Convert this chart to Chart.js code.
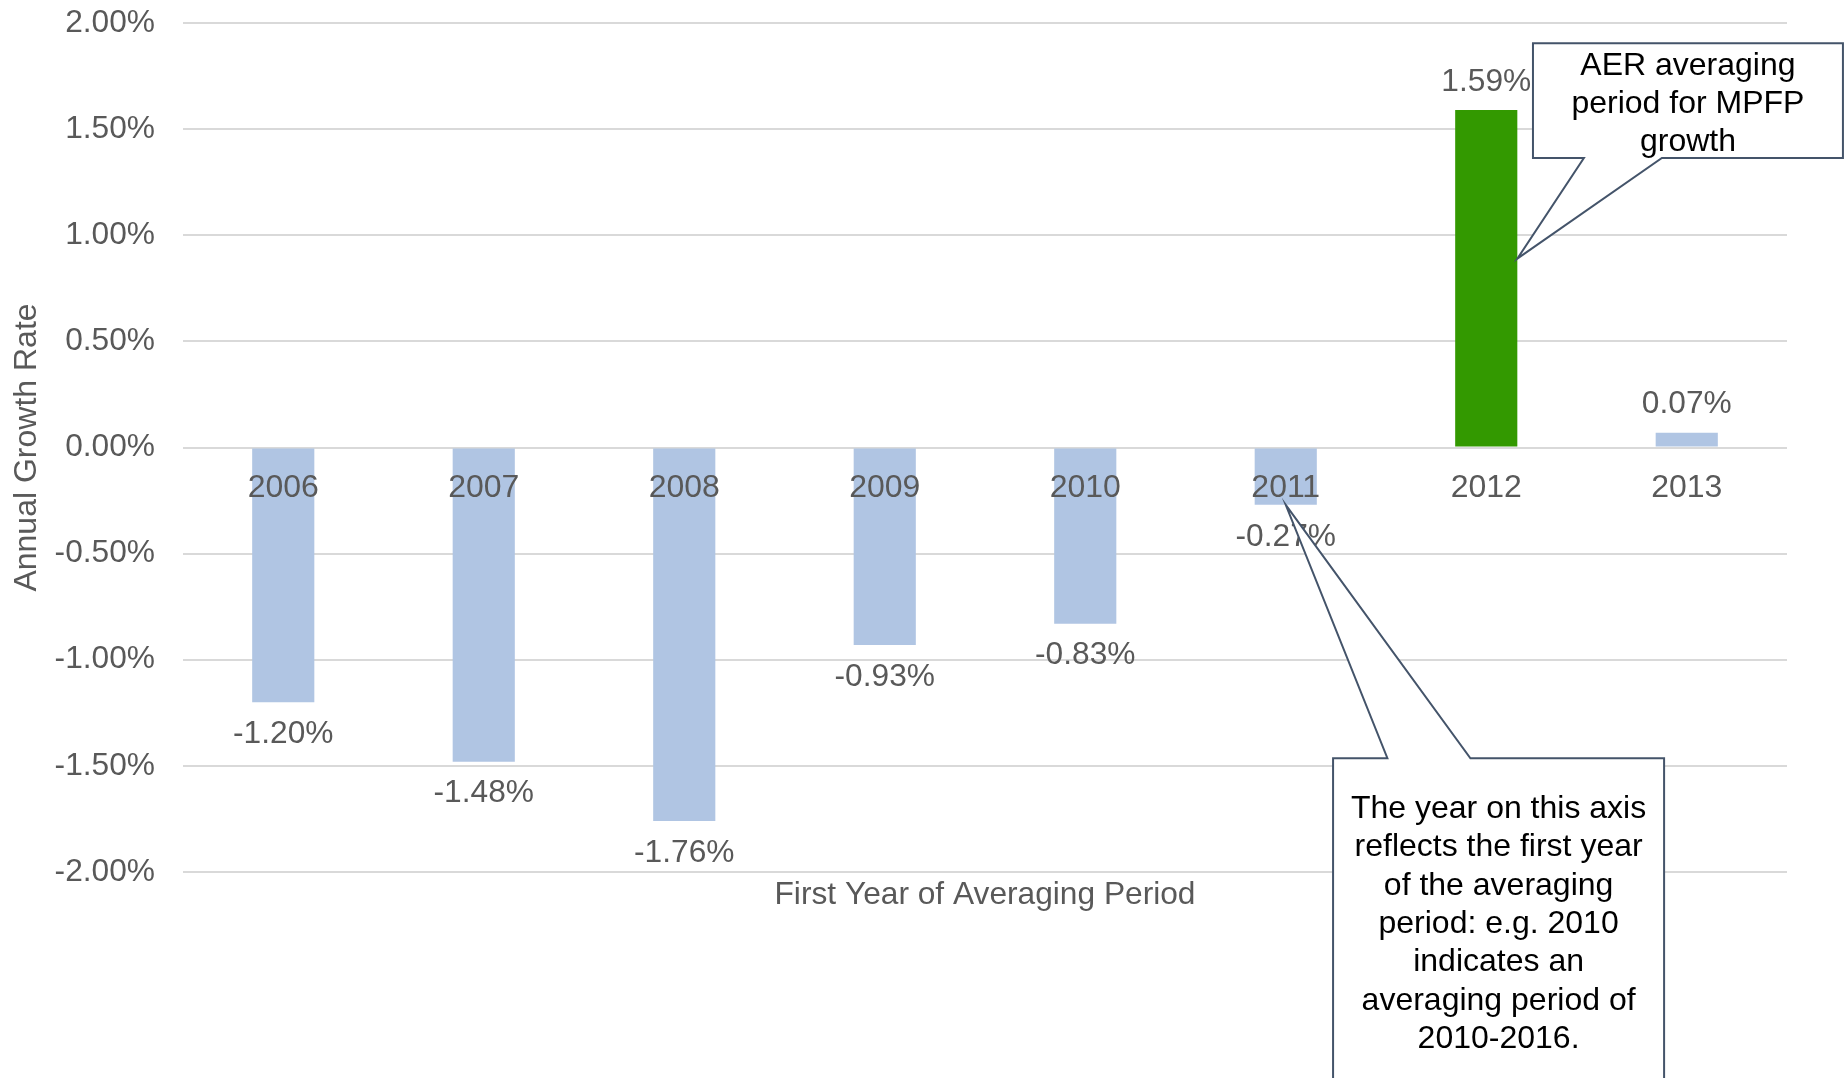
<!DOCTYPE html>
<html>
<head>
<meta charset="utf-8">
<title>Annual Growth Rate by First Year of Averaging Period</title>
<script src="https://cdn.jsdelivr.net/npm/chart.js@4.4.1/dist/chart.umd.min.js"></script>
<style>
    html, body { margin: 0; padding: 0; background: #fff; }
    #wrap { width: 1845px; height: 1078px; position: relative; }
</style>
</head>
<body>
<div id="wrap"><canvas id="growthChart"></canvas></div>
<script>
// Data
const years = ['2006', '2007', '2008', '2009', '2010', '2011', '2012', '2013'];
const growthRates = [-1.20, -1.48, -1.76, -0.93, -0.83, -0.27, 1.59, 0.07];
const highlightYear = '2012';
const yTickValues = [-2, -1.5, -1, -0.5, 0, 0.5, 1, 1.5, 2];

// Callout text
const aerNoteLines = ['AER averaging', 'period for MPFP', 'growth'];
const axisNoteLines = [
    'The year on this axis',
    'reflects the first year',
    'of the averaging',
    'period: e.g. 2010',
    'indicates an',
    'averaging period of',
    '2010-2016.'
];

const FONT = '"Liberation Sans", Arial, sans-serif';
const GREY = '#595959';

Chart.defaults.font.family = FONT;
Chart.defaults.color = GREY;

// percentage labels above / below each bar
const valueLabels = {
    id: 'valueLabels',
    afterDatasetsDraw(chart) {
        const ctx = chart.ctx;
        const bars = chart.getDatasetMeta(0).data;
        ctx.save();
        ctx.font = '31.7px ' + FONT;
        ctx.fillStyle = GREY;
        ctx.textAlign = 'center';
        ctx.textBaseline = 'middle';
        bars.forEach((bar, i) => {
            const v = growthRates[i];
            const y = v >= 0 ? bar.y - 28 : bar.y + 32;
            ctx.fillText(v.toFixed(2) + '%', bar.x, y);
        });
        ctx.restore();
    }
};

// callout boxes, placed in axis units (category index / percent)
const callouts = [
    {
        lines: aerNoteLines, side: 'bottom',
        left: 6.233, right: 7.779, top: 1.905, bottom: 1.364,
        base: [6.487, 6.876],
        bar: 6, tipEdge: 'right', tipValue: 0.89,
        firstBaseline: 32, lineGap: 37.8
    },
    {
        lines: axisNoteLines, side: 'top',
        left: 5.236, right: 6.887, top: -1.464, bottom: -3.1,
        base: [5.507, 5.921],
        bar: 5, tipEdge: 'center', tipValue: null,
        firstBaseline: 59.5, lineGap: 38.4
    }
];

const calloutPlugin = {
    id: 'callouts',
    afterDraw(chart) {
        const ctx = chart.ctx;
        const xs = chart.scales.x, ys = chart.scales.y;
        const bars = chart.getDatasetMeta(0).data;
        callouts.forEach(c => {
            const L = xs.getPixelForValue(c.left), R = xs.getPixelForValue(c.right);
            const T = ys.getPixelForValue(c.top), B = ys.getPixelForValue(c.bottom);
            const b1 = xs.getPixelForValue(c.base[0]), b2 = xs.getPixelForValue(c.base[1]);
            const bar = bars[c.bar];
            const tipX = c.tipEdge === 'right' ? bar.x + bar.width / 2 : bar.x;
            const tipY = c.tipValue === null ? bar.y : ys.getPixelForValue(c.tipValue);

            ctx.save();
            ctx.beginPath();
            if (c.side === 'bottom') {
                ctx.moveTo(L, T); ctx.lineTo(R, T); ctx.lineTo(R, B);
                ctx.lineTo(b2, B); ctx.lineTo(tipX, tipY); ctx.lineTo(b1, B);
                ctx.lineTo(L, B);
            } else {
                ctx.moveTo(L, T); ctx.lineTo(b1, T); ctx.lineTo(tipX, tipY);
                ctx.lineTo(b2, T); ctx.lineTo(R, T); ctx.lineTo(R, B);
                ctx.lineTo(L, B);
            }
            ctx.closePath();
            ctx.fillStyle = '#ffffff';
            ctx.fill();
            ctx.lineWidth = 2;
            ctx.strokeStyle = '#44546a';
            ctx.stroke();

            ctx.font = '32px ' + FONT;
            ctx.fillStyle = '#000000';
            ctx.textAlign = 'center';
            ctx.textBaseline = 'alphabetic';
            const cx = (L + R) / 2;
            c.lines.forEach((line, i) => {
                ctx.fillText(line, cx, T + c.firstBaseline + i * c.lineGap);
            });
            ctx.restore();
        });
    }
};

new Chart(document.getElementById('growthChart'), {
    type: 'bar',
    data: {
        labels: years,
        datasets: [{
            label: 'Annual Growth Rate',
            data: growthRates,
            backgroundColor: years.map(y => y === highlightYear ? '#339900' : '#b0c5e3'),
            borderWidth: 0,
            categoryPercentage: 1,
            barPercentage: 0.31
        }]
    },
    options: {
        responsive: true,
        maintainAspectRatio: false,
        animation: false,
        layout: { padding: { top: 23, right: 58, bottom: 0, left: 0 } },
        plugins: {
            legend: { display: false },
            tooltip: { enabled: false }
        },
        scales: {
            x: {
                axis: 'x',
                position: { y: 0 },
                grid: { display: false, drawTicks: false },
                border: { display: false },
                ticks: {
                    z: 1,
                    padding: 21,
                    color: GREY,
                    font: { size: 32 },
                    maxRotation: 0,
                    autoSkip: false
                },
                afterFit(scale) { scale.height = 0; }
            },
            x2: {
                axis: 'x',
                type: 'category',
                position: 'bottom',
                grid: { display: false, drawTicks: false },
                border: { display: false },
                ticks: { display: false },
                title: {
                    display: true,
                    text: 'First Year of Averaging Period',
                    color: GREY,
                    font: { size: 31.7 },
                    padding: { top: 0, bottom: 164 }
                },
                afterFit(scale) { scale.height = 206; }
            },
            y: {
                min: yTickValues[0],
                max: yTickValues[yTickValues.length - 1],
                afterBuildTicks(scale) {
                    scale.ticks = yTickValues.map(v => ({ value: v }));
                },
                grid: { color: '#d9d9d9', lineWidth: 2, drawTicks: false },
                border: { display: false },
                ticks: {
                    padding: 28,
                    color: GREY,
                    font: { size: 31.7 },
                    callback: v => v.toFixed(2) + '%'
                },
                title: {
                    display: true,
                    text: 'Annual Growth Rate',
                    color: GREY,
                    font: { size: 32 },
                    padding: { top: 8, bottom: 0 }
                },
                afterFit(scale) {
                    scale.width = 183;
                    // keep the plot top at the layout padding, labels may overhang
                    scale.paddingTop = 0;
                    scale.paddingBottom = 0;
                }
            }
        }
    },
    plugins: [valueLabels, calloutPlugin]
});
</script>
</body>
</html>
